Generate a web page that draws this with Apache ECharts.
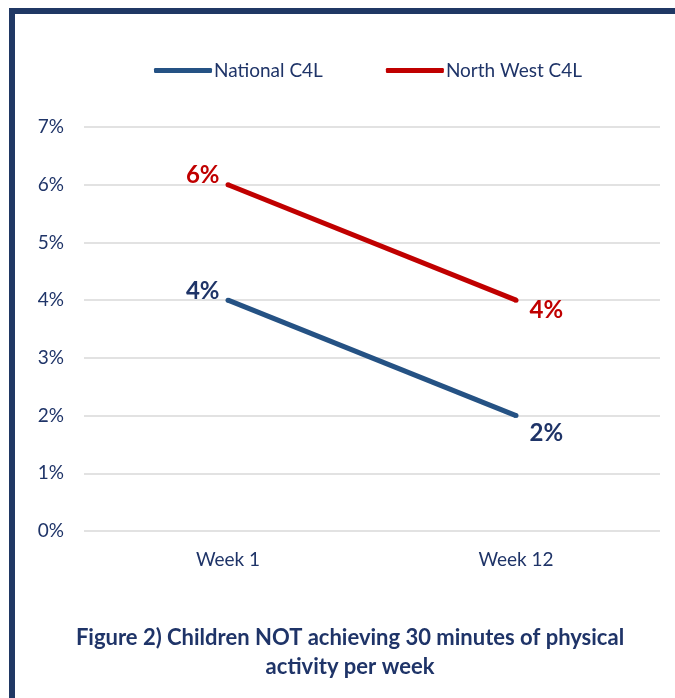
<!DOCTYPE html>
<html>
<head>
<meta charset="utf-8">
<script src="https://cdn.jsdelivr.net/npm/echarts@6/dist/echarts.min.js"></script>
<style>
  html, body { margin: 0; padding: 0; background: #fff; }
  #frame { position: absolute; left: 9px; top: 8px; width: 666px; height: 690px;
           border-left: 6px solid #203864; border-top: 6px solid #203864; box-sizing: border-box; }
  #chart { position: absolute; left: 0; top: 0; width: 675px; height: 698px; }
</style>
</head>
<body>
<div id="frame"></div>
<div id="chart"></div>
<script>
const weeks = ['Week 1', 'Week 12'];
const nationalC4L = [4, 2];
const northWestC4L = [6, 4];
const navy = '#1f3468';

const chart = echarts.init(document.getElementById('chart'));

function pointLabels(values, color, endDrop) {
  return values.map(function (v, i) {
    return {
      value: v,
      label: {
        show: true,
        position: i === 0 ? 'left' : 'right',
        offset: i === 0 ? [-1, -9] : [6, endDrop],
        color: color,
        fontSize: 24,
        fontWeight: 'bold',
        fontFamily: 'Lato',
        formatter: '{c}%'
      }
    };
  });
}

chart.setOption({
  textStyle: { fontFamily: 'Lato' },
  title: {
    text: 'Figure 2) Children NOT achieving 30 minutes of physical\nactivity per week',
    left: 345,
    textAlign: 'center',
    top: 618,
    textStyle: { color: navy, fontSize: 22, fontWeight: 'bold', lineHeight: 29, fontFamily: 'Lato' }
  },
  legend: {
    top: 56,
    left: 149,
    itemGap: 63,
    itemWidth: 58,
    itemHeight: 5,
    icon: 'roundRect',
    textStyle: { color: navy, fontSize: 19, padding: [0, 0, 0, -3] },
    data: ['National C4L', 'North West C4L']
  },
  grid: { left: 84, right: 15, top: 127, bottom: 167, containLabel: false },
  xAxis: {
    type: 'category',
    data: weeks,
    boundaryGap: true,
    axisLine: { show: false },
    axisTick: { show: false },
    axisLabel: { color: navy, fontSize: 19, margin: 19 }
  },
  yAxis: {
    type: 'value',
    min: 0,
    max: 7,
    interval: 1,
    axisLabel: { color: navy, fontSize: 19, formatter: '{value}%', margin: 20 },
    splitLine: { lineStyle: { color: '#d9d9d9', width: 1.5 } }
  },
  series: [
    {
      name: 'National C4L',
      type: 'line',
      data: pointLabels(nationalC4L, navy, 18),
      symbol: 'circle',
      symbolSize: 5,
      itemStyle: { color: '#255284' },
      lineStyle: { color: '#255284', width: 5 }
    },
    {
      name: 'North West C4L',
      type: 'line',
      data: pointLabels(northWestC4L, '#c00000', 10),
      symbol: 'circle',
      symbolSize: 5,
      itemStyle: { color: '#c00000' },
      lineStyle: { color: '#c00000', width: 5 }
    }
  ]
});
</script>
</body>
</html>
